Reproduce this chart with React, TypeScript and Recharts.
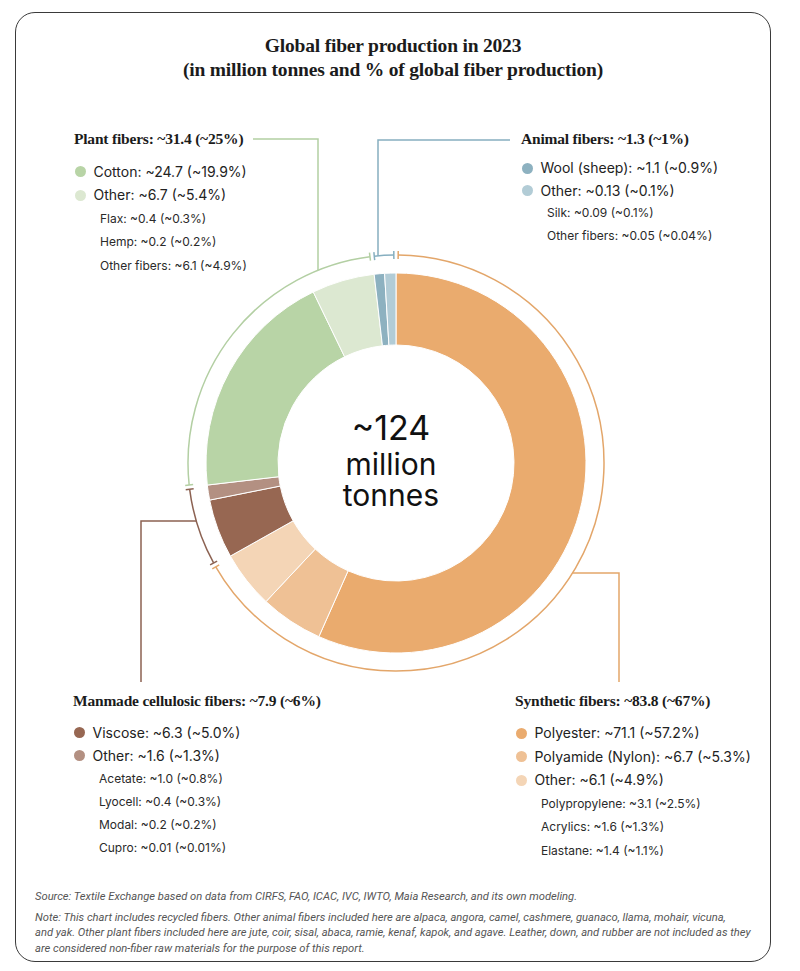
import { PieChart, Pie, Cell } from "recharts";

// slices clockwise from 12 o'clock, in the order of the original donut
const sliceNames = ["Polyester", "Polyamide (Nylon)", "Other", "Viscose", "Other", "Cotton", "Other", "Wool (sheep)", "Other"];
const sliceGroup = [0, 0, 0, 1, 1, 2, 2, 3, 3];
// drawn size in million tonnes (the last animal slice is drawn wider than its 0.13 in the source)
const sliceValues = [71.1, 6.7, 6.1, 6.3, 1.6, 24.7, 6.7, 1.1, 1.2];
const sliceAmounts = ["71.1", "6.7", "6.1", "6.3", "1.6", "24.7", "6.7", "1.1", "0.13"];
const sliceShares = ["57.2", "5.3", "4.9", "5.0", "1.3", "19.9", "5.4", "0.9", "0.1"];

const groupNames = ["Synthetic fibers", "Manmade cellulosic fibers", "Plant fibers", "Animal fibers"];
const groupAmounts = ["83.8", "7.9", "31.4", "1.3"];
const groupShares = ["67", "6", "25", "1"];

const subNames = [
  ["Polypropylene", "Acrylics", "Elastane"],
  ["Acetate", "Lyocell", "Modal", "Cupro"],
  ["Flax", "Hemp", "Other fibers"],
  ["Silk", "Other fibers"],
];
const subAmounts = [
  ["3.1", "1.6", "1.4"],
  ["1.0", "0.4", "0.2", "0.01"],
  ["0.4", "0.2", "6.1"],
  ["0.09", "0.05"],
];
const subShares = [
  ["2.5", "1.3", "1.1"],
  ["0.8", "0.3", "0.2", "0.01"],
  ["0.3", "0.2", "4.9"],
  ["0.1", "0.04"],
];

const TOTAL_LABEL = "~124";
const TOTAL_UNIT = "million tonnes";

const SLICE_COLORS = ["#EAAB6E", "#EFC195", "#F4D5B6", "#976752", "#B39082", "#B8D4A6", "#DCE8D1", "#8DB1C0", "#B2CCD6"];
const GROUP_LINE_COLORS = ["#E3A66A", "#8C6252", "#B3CFA3", "#86AFC0"];

const CX = 391;
const CY = 458;
const BRACKET_R = 208;

const SERIF = "'Liberation Serif', 'Times New Roman', serif";
const SANS = "Inter, 'Noto Sans', sans-serif";

// legend block placement: heading position, first row centre and row gap
const BLOCKS = [
  { x: 515, y: 701, rowStart: 733, rowGap: 23.6 },
  { x: 73, y: 701, rowStart: 732.7, rowGap: 23.1 },
  { x: 74, y: 139, rowStart: 171.7, rowGap: 23.5 },
  { x: 521, y: 139, rowStart: 168, rowGap: 22.7 },
];

const bracketData = groupNames.map((name, g) => ({
  name,
  value: sliceValues.reduce((s, v, i) => (sliceGroup[i] === g ? s + v : s), 0),
}));
const sliceData = sliceNames.map((name, i) => ({ name, value: sliceValues[i] }));

const RAD = Math.PI / 180;
const polar = (cx: number, cy: number, r: number, a: number) => ({
  x: cx + r * Math.cos(-a * RAD),
  y: cy + r * Math.sin(-a * RAD),
});

// outer bracket arc with end ticks + connector to the legend block
function renderBracket(props: any) {
  const { cx, cy, startAngle, endAngle, index } = props;
  const r = BRACKET_R;
  const pad = 0.6;
  const a0 = startAngle - pad;
  const a1 = endAngle + pad;
  const p0 = polar(cx, cy, r, a0);
  const p1 = polar(cx, cy, r, a1);
  const large = a0 - a1 > 180 ? 1 : 0;
  const color = GROUP_LINE_COLORS[index];

  const tick = (a: number) => {
    const i = polar(cx, cy, r - 4, a);
    const o = polar(cx, cy, r + 4, a);
    return <line x1={i.x} y1={i.y} x2={o.x} y2={o.y} stroke={color} strokeWidth={1.5} />;
  };

  let conn = "";
  if (index === 0) {
    const y = 573;
    const x = cx + Math.sqrt(r * r - (y - cy) ** 2);
    conn = `M${x},${y}H619V682`;
  } else if (index === 1) {
    const y = 521;
    const x = cx - Math.sqrt(r * r - (y - cy) ** 2);
    conn = `M${x},${y}H141V682`;
  } else if (index === 2) {
    const x = 318;
    const y = cy - Math.sqrt(r * r - (x - cx) ** 2);
    conn = `M${x},${y}V139H253`;
  } else {
    const x = 378;
    const y = cy - Math.sqrt(r * r - (x - cx) ** 2);
    conn = `M${x},${y}V140H510`;
  }

  return (
    <g key={`bracket-${index}`}>
      <path
        d={`M${p0.x},${p0.y}A${r},${r} 0 ${large} 1 ${p1.x},${p1.y}`}
        fill="none"
        stroke={color}
        strokeWidth={1.5}
      />
      {tick(a0)}
      {tick(a1)}
      <path d={conn} fill="none" stroke={color} strokeWidth={1.5} />
    </g>
  );
}

function LegendBlock({ g }: { g: number }) {
  const b = BLOCKS[g];
  const mains = sliceNames.map((_, i) => i).filter((i) => sliceGroup[i] === g);
  const rowY = (k: number) => b.rowStart + k * b.rowGap;

  return (
    <>
      <div
        style={{
          position: "absolute",
          left: b.x,
          top: b.y - 11,
          height: 22,
          lineHeight: "22px",
          fontFamily: SERIF,
          fontWeight: 700,
          fontSize: 15.5,
          color: "#1b1b1b",
          whiteSpace: "nowrap",
          letterSpacing: -0.2,
        }}
      >
        {`${groupNames[g]}: ~${groupAmounts[g]} (~${groupShares[g]}%)`}
      </div>
      {mains.map((i, k) => (
        <div key={`m-${i}`}>
          <div
            style={{
              position: "absolute",
              left: b.x + 1,
              top: rowY(k) - 5.5,
              width: 11,
              height: 11,
              borderRadius: "50%",
              background: SLICE_COLORS[i],
            }}
          />
          <div
            style={{
              position: "absolute",
              left: b.x + 19.5,
              top: rowY(k) - 10,
              height: 20,
              lineHeight: "20px",
              fontFamily: SANS,
              fontSize: 14,
              color: "#222",
              whiteSpace: "nowrap",
            }}
          >
            {`${sliceNames[i]}: ~${sliceAmounts[i]} (~${sliceShares[i]}%)`}
          </div>
        </div>
      ))}
      {subNames[g].map((n, k) => (
        <div
          key={`s-${k}`}
          style={{
            position: "absolute",
            left: b.x + 26,
            top: rowY(mains.length + k) - 9,
            height: 18,
            lineHeight: "18px",
            fontFamily: SANS,
            fontSize: 12,
            color: "#2a2a2a",
            whiteSpace: "nowrap",
          }}
        >
          {`${n}: ~${subAmounts[g][k]} (~${subShares[g][k]}%)`}
        </div>
      ))}
    </>
  );
}

const NOTE_LINES = [
  "Note: This chart includes recycled fibers. Other animal fibers included here are alpaca, angora, camel, cashmere, guanaco, llama, mohair, vicuna,",
  "and yak. Other plant fibers included here are jute, coir, sisal, abaca, ramie, kenaf, kapok, and agave. Leather, down, and rubber are not included as they",
  "are considered non-fiber raw materials for the purpose of this report.",
];

export default function App() {
  const footStyle = {
    position: "absolute" as const,
    left: 35,
    fontFamily: "Roboto, sans-serif",
    fontStyle: "italic",
    fontSize: 11.2,
    color: "#555",
    whiteSpace: "nowrap" as const,
    height: 15,
    lineHeight: "15px",
  };

  return (
    <div style={{ position: "absolute", left: 0, top: 0, width: 800, height: 971, background: "#fff", overflow: "hidden" }}>
      <div
        style={{
          position: "absolute",
          left: 15,
          top: 12,
          width: 756,
          height: 950,
          border: "1.5px solid #3a3a3a",
          borderRadius: 20,
          boxSizing: "border-box",
        }}
      />

      <div
        style={{
          position: "absolute",
          left: 15,
          width: 756,
          top: 34,
          textAlign: "center",
          fontFamily: SERIF,
          fontWeight: 700,
          fontSize: 19.5,
          lineHeight: "23.5px",
          color: "#1b1b1b",
          letterSpacing: -0.2,
        }}
      >
        <div>Global fiber production in 2023</div>
        <div>(in million tonnes and % of global fiber production)</div>
      </div>

      <div style={{ position: "absolute", left: 0, top: 0 }}>
        <PieChart width={800} height={971}>
          <Pie
            data={sliceData}
            dataKey="value"
            nameKey="name"
            cx={CX}
            cy={CY}
            innerRadius={118}
            outerRadius={190}
            startAngle={90}
            endAngle={-270}
            stroke="#ffffff"
            strokeWidth={1}
            isAnimationActive={false}
          >
            {sliceData.map((d, i) => (
              <Cell key={`c-${i}`} fill={SLICE_COLORS[i]} />
            ))}
          </Pie>
          <Pie
            data={bracketData}
            dataKey="value"
            nameKey="name"
            cx={CX}
            cy={CY}
            innerRadius={BRACKET_R}
            outerRadius={BRACKET_R}
            startAngle={90}
            endAngle={-270}
            fill="none"
            stroke="none"
            label={renderBracket}
            labelLine={false}
            isAnimationActive={false}
          />
        </PieChart>
      </div>

      <div
        style={{
          position: "absolute",
          left: CX - 100,
          width: 200,
          top: 411,
          height: 34,
          lineHeight: "34px",
          fontSize: 34,
          textAlign: "center",
          fontFamily: SANS,
          color: "#111",
        }}
      >
        {TOTAL_LABEL}
      </div>
      <div
        style={{
          position: "absolute",
          left: CX - 60,
          width: 120,
          top: 449,
          lineHeight: "31px",
          fontSize: 30,
          textAlign: "center",
          fontFamily: SANS,
          color: "#111",
        }}
      >
        {TOTAL_UNIT}
      </div>

      {groupNames.map((_, g) => (
        <LegendBlock key={g} g={g} />
      ))}

      <div style={{ ...footStyle, top: 888.5 }}>
        Source: Textile Exchange based on data from CIRFS, FAO, ICAC, IVC, IWTO, Maia Research, and its own modeling.
      </div>
      {NOTE_LINES.map((t, k) => (
        <div key={k} style={{ ...footStyle, top: 909.5 + k * 15.5 }}>
          {t}
        </div>
      ))}
    </div>
  );
}
